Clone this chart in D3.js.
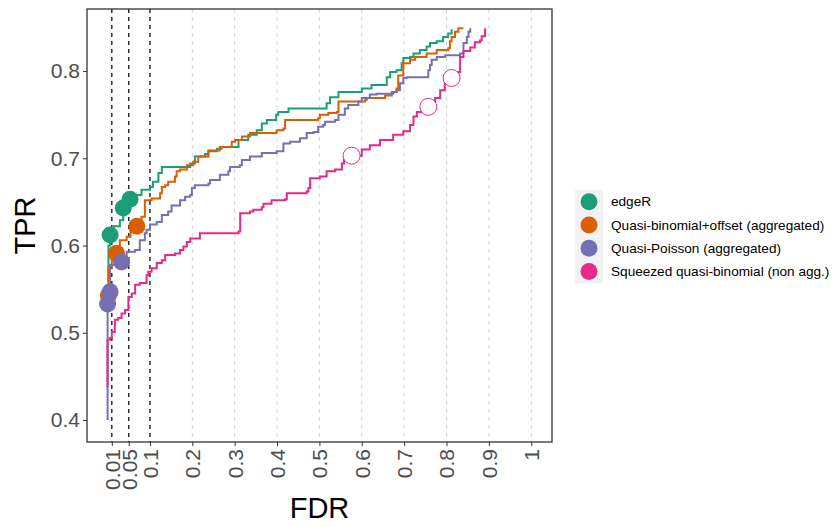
<!DOCTYPE html>
<html>
<head>
<meta charset="utf-8">
<script src="https://cdn.jsdelivr.net/npm/d3@7"></script>
<style>
  body { margin: 0; background: #fff; }
  svg { display: block; font-family: "Liberation Sans", Arial, sans-serif; }
</style>
</head>
<body>
<svg id="chart" width="837" height="527"></svg>
<script>
// ---- data (FDR, TPR) ----
const fdrBreaks = [0.01, 0.05, 0.1, 0.2, 0.3, 0.4, 0.5, 0.6, 0.7, 0.8, 0.9, 1];
const fdrLabels = ["0.01", "0.05", "0.1", "0.2", "0.3", "0.4", "0.5", "0.6", "0.7", "0.8", "0.9", "1"];
const tprBreaks = [0.4, 0.5, 0.6, 0.7, 0.8];
const thresholds = [0.01, 0.05, 0.1];
const methods = ["edgeR", "Quasi-binomial+offset (aggregated)", "Quasi-Poisson (aggregated)", "Squeezed quasi-binomial (non agg.)"];
const palette = ["#1B9E77", "#D95F02", "#7570B3", "#E7298A"];

const edgeRCurve = [[0.002,0.558],[0.002,0.600],[0.006,0.612],[0.014,0.622],[0.029,0.629],[0.037,0.640],[0.053,0.652],[0.065,0.658],[0.080,0.664],[0.100,0.667],[0.107,0.673],[0.120,0.683],[0.128,0.690],[0.186,0.690],[0.195,0.694],[0.206,0.702],[0.230,0.705],[0.238,0.708],[0.258,0.711],[0.269,0.713],[0.305,0.713],[0.309,0.721],[0.332,0.727],[0.352,0.732],[0.364,0.740],[0.376,0.744],[0.398,0.750],[0.403,0.753],[0.427,0.757],[0.513,0.757],[0.517,0.763],[0.525,0.770],[0.545,0.776],[0.592,0.776],[0.600,0.780],[0.623,0.784],[0.645,0.784],[0.659,0.793],[0.667,0.799],[0.682,0.801],[0.694,0.809],[0.698,0.815],[0.714,0.816],[0.722,0.820],[0.737,0.824],[0.753,0.828],[0.761,0.832],[0.777,0.834],[0.792,0.839],[0.804,0.843],[0.812,0.848]];
const qbOffsetCurve = [[0.002,0.541],[0.002,0.575],[0.010,0.585],[0.021,0.592],[0.029,0.606],[0.045,0.610],[0.054,0.618],[0.069,0.622],[0.080,0.633],[0.088,0.641],[0.088,0.652],[0.104,0.654],[0.124,0.660],[0.128,0.667],[0.136,0.669],[0.143,0.673],[0.159,0.679],[0.163,0.685],[0.171,0.687],[0.187,0.692],[0.202,0.696],[0.214,0.702],[0.238,0.709],[0.265,0.713],[0.293,0.719],[0.301,0.721],[0.317,0.725],[0.336,0.729],[0.395,0.729],[0.399,0.732],[0.415,0.734],[0.419,0.744],[0.497,0.746],[0.501,0.750],[0.521,0.752],[0.541,0.753],[0.545,0.765],[0.608,0.767],[0.612,0.769],[0.651,0.769],[0.655,0.772],[0.671,0.776],[0.682,0.780],[0.686,0.788],[0.686,0.795],[0.698,0.797],[0.698,0.809],[0.714,0.813],[0.726,0.816],[0.753,0.820],[0.777,0.824],[0.804,0.826],[0.808,0.834],[0.812,0.839],[0.820,0.845],[0.828,0.849],[0.840,0.849]];
const qpCurve = [[0.000,0.400],[0.000,0.533],[0.006,0.547],[0.006,0.578],[0.033,0.581],[0.045,0.593],[0.065,0.595],[0.076,0.606],[0.088,0.614],[0.092,0.618],[0.100,0.624],[0.116,0.627],[0.128,0.635],[0.143,0.639],[0.151,0.646],[0.171,0.652],[0.183,0.656],[0.195,0.658],[0.199,0.666],[0.206,0.669],[0.238,0.671],[0.242,0.675],[0.265,0.681],[0.285,0.685],[0.289,0.690],[0.312,0.692],[0.317,0.698],[0.336,0.702],[0.364,0.706],[0.399,0.708],[0.415,0.717],[0.431,0.719],[0.454,0.723],[0.470,0.729],[0.486,0.730],[0.497,0.736],[0.509,0.738],[0.513,0.742],[0.537,0.744],[0.545,0.750],[0.560,0.757],[0.568,0.761],[0.592,0.765],[0.600,0.769],[0.619,0.773],[0.635,0.774],[0.674,0.776],[0.682,0.778],[0.690,0.786],[0.698,0.792],[0.706,0.793],[0.753,0.793],[0.757,0.801],[0.761,0.807],[0.765,0.813],[0.777,0.816],[0.797,0.818],[0.832,0.820],[0.840,0.832],[0.848,0.839],[0.852,0.845],[0.856,0.849]];
const squeezedCurve = [[0.000,0.438],[0.000,0.492],[0.006,0.494],[0.010,0.501],[0.017,0.515],[0.025,0.517],[0.033,0.522],[0.041,0.526],[0.049,0.532],[0.049,0.541],[0.057,0.545],[0.065,0.555],[0.076,0.557],[0.092,0.566],[0.096,0.570],[0.104,0.574],[0.116,0.580],[0.128,0.583],[0.136,0.589],[0.159,0.591],[0.171,0.595],[0.179,0.599],[0.187,0.604],[0.195,0.608],[0.218,0.614],[0.309,0.616],[0.313,0.637],[0.336,0.639],[0.344,0.641],[0.364,0.644],[0.368,0.648],[0.387,0.652],[0.419,0.653],[0.423,0.660],[0.470,0.662],[0.474,0.666],[0.478,0.677],[0.501,0.679],[0.517,0.685],[0.537,0.687],[0.553,0.694],[0.558,0.698],[0.576,0.703],[0.600,0.710],[0.619,0.715],[0.643,0.721],[0.674,0.727],[0.698,0.731],[0.714,0.738],[0.722,0.748],[0.730,0.753],[0.757,0.759],[0.773,0.769],[0.785,0.778],[0.796,0.786],[0.812,0.792],[0.828,0.799],[0.832,0.816],[0.840,0.823],[0.856,0.827],[0.867,0.833],[0.879,0.835],[0.883,0.840],[0.891,0.849]];

// observed (FDR, TPR) at the nominal thresholds 0.01, 0.05, 0.1
const edgeRPoints = [[0.006,0.612],[0.037,0.643],[0.053,0.653]];
const qbOffsetPoints = [[0.002,0.543],[0.021,0.591],[0.069,0.622]];
const qpPoints = [[0.000,0.533],[0.006,0.547],[0.033,0.581]];
const squeezedPoints = [[0.576,0.703],[0.757,0.759],[0.812,0.792]];

const curves = [edgeRCurve, qbOffsetCurve, qpCurve, squeezedCurve];
const points = [edgeRPoints, qbOffsetPoints, qpPoints, squeezedPoints];

// ---- layout ----
const panel = { left: 87, right: 552, top: 9, bottom: 442 };
const svg = d3.select("#chart");

const x = d3.scaleLinear().domain([-0.0486, 1.049]).range([panel.left, panel.right]);
const y = d3.scaleLinear().domain([0.3748, 0.8711]).range([panel.bottom, panel.top]);

// grid (vertical only)
svg.append("g")
    .selectAll("line")
    .data(fdrBreaks)
    .join("line")
    .attr("x1", d => x(d)).attr("x2", d => x(d))
    .attr("y1", panel.top).attr("y2", panel.bottom)
    .attr("stroke", "#d4d4d4")
    .attr("stroke-width", 1)
    .attr("stroke-dasharray", "4,4");

// threshold lines
svg.append("g")
    .selectAll("line")
    .data(thresholds)
    .join("line")
    .attr("x1", d => x(d)).attr("x2", d => x(d))
    .attr("y1", panel.top).attr("y2", panel.bottom)
    .attr("stroke", "#000")
    .attr("stroke-width", 1.2)
    .attr("stroke-dasharray", "4,4");

// curves
const line = d3.line()
    .x(d => x(d[0]))
    .y(d => y(d[1]))
    .curve(d3.curveStepAfter);

svg.append("g")
    .selectAll("path")
    .data(curves)
    .join("path")
    .attr("d", line)
    .attr("fill", "none")
    .attr("stroke", (d, i) => palette[i])
    .attr("stroke-width", 2);

// threshold points: filled when observed FDR is below the nominal level
const pointData = points.flatMap((arr, i) => arr.map((p, j) => ({
    fdr: p[0], tpr: p[1], method: i, ok: p[0] <= thresholds[j]
})));

svg.append("g")
    .selectAll("circle")
    .data(pointData)
    .join("circle")
    .attr("cx", d => x(d.fdr))
    .attr("cy", d => y(d.tpr))
    .attr("r", 8.5)
    .attr("fill", d => d.ok ? palette[d.method] : "#fff")
    .attr("stroke", d => d.ok ? "none" : palette[d.method])
    .attr("stroke-width", 1);

// panel border
svg.append("rect")
    .attr("x", panel.left).attr("y", panel.top)
    .attr("width", panel.right - panel.left)
    .attr("height", panel.bottom - panel.top)
    .attr("fill", "none")
    .attr("stroke", "#333")
    .attr("stroke-width", 1.3);

// axes
const yAxis = svg.append("g")
    .attr("transform", `translate(${panel.left},0)`)
    .call(d3.axisLeft(y).tickValues(tprBreaks).tickFormat(d3.format(".1f")).tickSize(4).tickPadding(3));
yAxis.select(".domain").remove();
yAxis.selectAll(".tick line").attr("stroke", "#333");
yAxis.selectAll(".tick text")
    .attr("fill", "#4d4d4d")
    .style("font-size", "21px")
    .style("font-family", "'Liberation Sans', Arial, sans-serif");

const xAxis = svg.append("g")
    .attr("transform", `translate(0,${panel.bottom})`)
    .call(d3.axisBottom(x).tickValues(fdrBreaks).tickFormat((d, i) => fdrLabels[i]).tickSize(4));
xAxis.select(".domain").remove();
xAxis.selectAll(".tick line").attr("stroke", "#333");
xAxis.selectAll(".tick text")
    .attr("fill", "#4d4d4d")
    .attr("transform", "rotate(-90)")
    .attr("text-anchor", "end")
    .attr("x", -7)
    .attr("y", 0)
    .attr("dy", "0.35em")
    .style("font-size", "21px")
    .style("font-family", "'Liberation Sans', Arial, sans-serif");

// axis titles
svg.append("text")
    .attr("x", (panel.left + panel.right) / 2)
    .attr("y", 518)
    .attr("text-anchor", "middle")
    .style("font-size", "29px")
    .text("FDR");

svg.append("text")
    .attr("transform", `translate(35,${(panel.top + panel.bottom) / 2}) rotate(-90)`)
    .attr("text-anchor", "middle")
    .style("font-size", "29px")
    .text("TPR");

// legend
const legend = svg.append("g").attr("transform", "translate(575,190)");
const keyH = 23.3;
const item = legend.selectAll("g")
    .data(methods)
    .join("g")
    .attr("transform", (d, i) => `translate(0,${i * keyH})`);
item.append("rect")
    .attr("width", 28).attr("height", keyH)
    .attr("fill", "#f2f2f2");
item.append("circle")
    .attr("cx", 14).attr("cy", keyH / 2)
    .attr("r", 8.5)
    .attr("fill", (d, i) => palette[i]);
item.append("text")
    .attr("x", 36).attr("y", keyH / 2)
    .attr("dy", "0.35em")
    .style("font-size", "13.6px")
    .attr("fill", "#000")
    .text(d => d);
</script>
</body>
</html>
